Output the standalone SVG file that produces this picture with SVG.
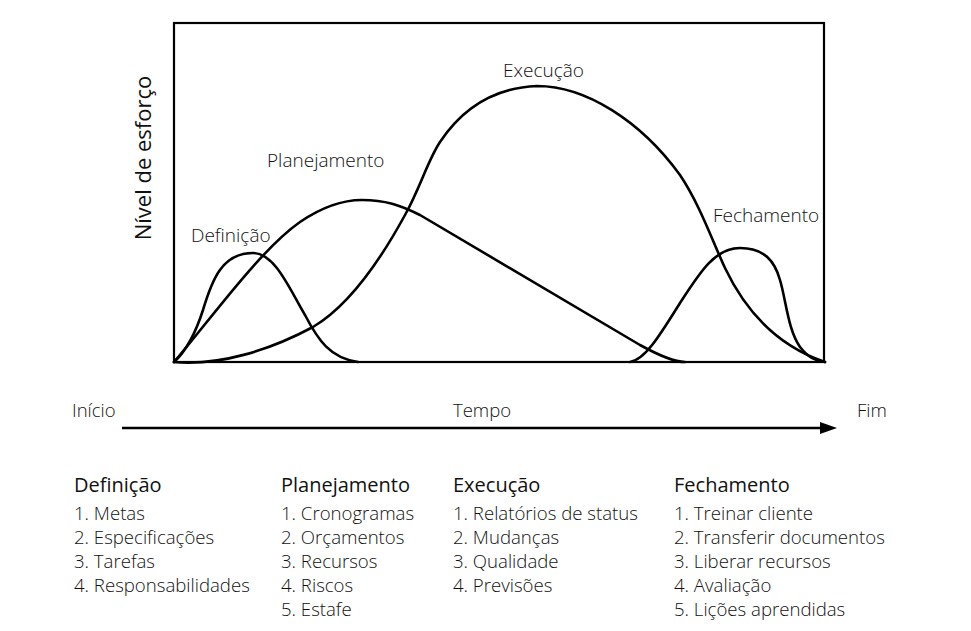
<svg xmlns="http://www.w3.org/2000/svg" width="971" height="631" viewBox="0 0 971 631">
<style>
text{font-family:"Open Sans","Noto Sans","Liberation Sans",sans-serif;fill:#111}
.lbl{font-size:19px;font-weight:300}
.ax{font-size:18.5px;font-weight:300}
.ylab{font-size:22px;font-weight:400}
.hd{font-size:20px;font-weight:400}
.it{font-size:18.6px;font-weight:300}
.curve{fill:none;stroke:#000;stroke-width:2.6;stroke-linecap:round;stroke-linejoin:round}
</style>
<rect width="971" height="631" fill="#fff"/>
<g id="chart">
<rect x="174" y="23" width="650" height="339" fill="none" stroke="#000" stroke-width="2.2"/>
<text class="ylab" transform="translate(151,158) rotate(-90)" text-anchor="middle">Nível de esforço</text>
</g>
<g id="connectors">
<path id="c-definicao" class="curve" d="M174,362 C185,352 195,335 203,310 C212,280 222,253 253,253 C275,253 290,290 305,315 C318,340 330,358 358,362"/>
<path id="c-planejamento" class="curve" d="M174,362 C210,320 260,250 300,222 C325,205 345,200 362,200 C385,200 400,205 420,215 L640,345 C660,356 675,362 685,362"/>
<path id="c-execucao" class="curve" d="M174,362 C220,366 270,350 313,327 C345,308 375,270 405,215 C420,188 428,160 440,142 C460,112 490,88 537,86 C585,86 640,120 680,175 C700,205 712,240 725,268 C745,310 775,345 825,362"/>
<path id="c-fechamento" class="curve" d="M630,362 C645,360 660,335 680,303 C700,272 715,248 740,248 C765,248 775,262 780,280 C786,300 788,330 800,347 C808,357 815,361 825,362"/>
<line x1="122" y1="428" x2="824" y2="428" stroke="#000" stroke-width="2.7"/>
<polygon points="820,422 837,428 820,434" fill="#000"/>
</g>
<g id="n-definicao-label"><text class="lbl" x="191" y="242">Definição</text></g>
<g id="n-planejamento-label"><text class="lbl" x="267" y="167">Planejamento</text></g>
<g id="n-execucao-label"><text class="lbl" x="503" y="77">Execução</text></g>
<g id="n-fechamento-label"><text class="lbl" x="713" y="222">Fechamento</text></g>
<g id="n-axis">
<text class="ax" x="72" y="417">Início</text>
<text class="ax" x="453" y="417">Tempo</text>
<text class="ax" x="857" y="417">Fim</text>
</g>
<g id="n-col-definicao">
<text class="hd" x="74" y="492">Definição</text>
<text class="it" x="74" y="520">1. Metas</text>
<text class="it" x="74" y="544">2. Especificações</text>
<text class="it" x="74" y="568">3. Tarefas</text>
<text class="it" x="74" y="592">4. Responsabilidades</text>
</g>
<g id="n-col-planejamento">
<text class="hd" x="281" y="492">Planejamento</text>
<text class="it" x="281" y="520">1. Cronogramas</text>
<text class="it" x="281" y="544">2. Orçamentos</text>
<text class="it" x="281" y="568">3. Recursos</text>
<text class="it" x="281" y="592">4. Riscos</text>
<text class="it" x="281" y="616">5. Estafe</text>
</g>
<g id="n-col-execucao">
<text class="hd" x="453" y="492">Execução</text>
<text class="it" x="453" y="520">1. Relatórios de status</text>
<text class="it" x="453" y="544">2. Mudanças</text>
<text class="it" x="453" y="568">3. Qualidade</text>
<text class="it" x="453" y="592">4. Previsões</text>
</g>
<g id="n-col-fechamento">
<text class="hd" x="674" y="492">Fechamento</text>
<text class="it" x="674" y="520">1. Treinar cliente</text>
<text class="it" x="674" y="544">2. Transferir documentos</text>
<text class="it" x="674" y="568">3. Liberar recursos</text>
<text class="it" x="674" y="592">4. Avaliação</text>
<text class="it" x="674" y="616">5. Lições aprendidas</text>
</g>
</svg>
